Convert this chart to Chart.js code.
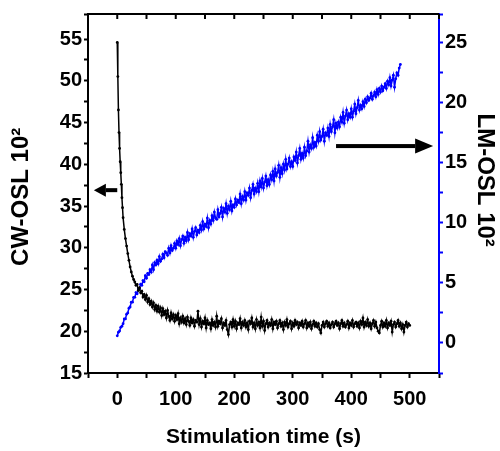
<!DOCTYPE html>
<html>
<head>
<meta charset="utf-8">
<script src="https://cdn.jsdelivr.net/npm/chart.js@4.4.1/dist/chart.umd.min.js"></script>
<style>
  body { margin: 0; background: #fff; }
  canvas { display: block; }
</style>
</head>
<body>
<canvas id="osl" width="500" height="451"></canvas>
<script>
// CW-OSL decay (left axis, x10^2 counts)
const cwTime = [0,1,2,3,4,5,6,7,8,9,10,
  12,14,16,18,20,22,24,26,28,30,32,34,36,38,40,42,44,46,48,50,
  52,54,56,58,60,62,64,66,68,70,72,74,76,78,80,82,84,86,88,90,
  92,94,96,98,100,102,104,106,108,110,112,114,116,118,120,122,124,126,128,130,
  132,134,136,138,140,142,144,146,148,150,152,154,156,158,160,162,164,166,168,170,
  172,174,176,178,180,182,184,186,188,190,192,194,196,198,200,202,204,206,208,210,
  212,214,216,218,220,222,224,226,228,230,232,234,236,238,240,242,244,246,248,250,
  252,254,256,258,260,262,264,266,268,270,272,274,276,278,280,282,284,286,288,290,
  292,294,296,298,300,302,304,306,308,310,312,314,316,318,320,322,324,326,328,330,
  332,334,336,338,340,342,344,346,348,350,352,354,356,358,360,362,364,366,368,370,
  372,374,376,378,380,382,384,386,388,390,392,394,396,398,400,402,404,406,408,410,
  412,414,416,418,420,422,424,426,428,430,432,434,436,438,440,442,444,446,448,450,
  452,454,456,458,460,462,464,466,468,470,472,474,476,478,480,482,484,486,488,490,
  492,494,496,498,500];
const cwValues = [54.6,50.5,46.5,43.8,41.9,40.3,39.0,37.6,36.0,34.8,33.6,
  32.2,31.1,30.2,29.3,28.5,27.7,27.1,26.6,26.2,25.9,25.5,25.6,24.9,25.2,24.6,24.8,24.1,24.4,23.8,24.3,
  23.5,23.9,23.2,23.6,22.9,23.4,22.6,23.1,22.4,23.0,22.3,22.8,21.9,22.7,22.0,22.4,21.6,22.5,21.8,21.3,
  22.2,21.5,22.0,21.2,21.9,21.4,22.1,20.9,21.6,21.1,21.8,21.0,21.5,20.8,21.7,21.2,20.7,21.6,21.0,21.4,
  20.6,21.3,21.1,22.4,20.8,21.5,20.5,21.2,20.9,21.6,20.4,21.3,20.8,21.0,20.3,21.4,20.7,21.1,20.5,21.8,
  20.6,21.2,20.9,21.5,20.4,21.0,20.7,21.3,20.2,19.6,20.8,21.1,20.5,21.4,20.6,21.2,20.3,21.0,20.8,21.5,
  20.4,21.1,20.7,21.3,20.5,21.0,20.2,21.2,20.9,21.6,20.5,21.0,20.3,21.4,20.7,21.1,20.4,21.7,20.6,21.2,
  20.1,20.9,21.3,20.5,21.0,20.7,21.4,20.3,21.1,20.8,21.2,20.4,20.9,21.3,20.6,21.0,20.2,21.1,20.7,21.4,
  20.5,20.9,21.2,20.3,21.0,20.6,21.3,20.8,21.1,20.4,21.0,20.7,21.2,20.5,20.9,21.3,20.4,21.0,20.6,21.1,
  20.3,20.8,21.2,20.6,21.0,20.5,20.9,20.2,19.8,20.7,21.1,20.5,20.9,21.2,20.6,21.0,20.4,20.8,21.1,20.5,
  20.9,21.2,20.7,21.0,20.3,20.9,21.3,20.6,21.0,20.5,20.8,21.2,20.4,21.0,20.7,21.3,20.5,20.9,21.1,20.6,
  21.0,20.4,21.2,20.8,21.6,20.5,21.1,20.7,21.4,20.6,21.0,20.3,20.9,21.3,20.6,21.1,20.4,20.0,19.8,20.7,
  21.2,20.5,21.0,20.6,21.3,20.4,21.0,20.7,21.2,19.9,20.8,21.1,20.5,20.9,21.3,20.6,21.0,20.3,20.8,19.9,
  20.7,21.1,20.5,20.9,20.7];

// LM-OSL rise (right axis, x10^2 counts)
const lmTime = [0,2,4,6,8,10,12,14,16,18,20,22,24,26,28,30,32,34,36,38,
  40,42,44,46,48,50,52,54,56,58,60,62,64,66,68,70,72,74,76,78,
  80,82,84,86,88,90,92,94,96,98,100,102,104,106,108,110,112,114,116,118,
  120,122,124,126,128,130,132,134,136,138,140,142,144,146,148,150,152,154,156,158,
  160,162,164,166,168,170,172,174,176,178,180,182,184,186,188,190,192,194,196,198,
  200,202,204,206,208,210,212,214,216,218,220,222,224,226,228,230,232,234,236,238,
  240,242,244,246,248,250,252,254,256,258,260,262,264,266,268,270,272,274,276,278,
  280,282,284,286,288,290,292,294,296,298,300,302,304,306,308,310,312,314,316,318,
  320,322,324,326,328,330,332,334,336,338,340,342,344,346,348,350,352,354,356,358,
  360,362,364,366,368,370,372,374,376,378,380,382,384,386,388,390,392,394,396,398,
  400,402,404,406,408,410,412,414,416,418,420,422,424,426,428,430,432,434,436,438,
  440,442,444,446,448,450,452,454,456,458,460,462,464,466,468,470,472,474,476,478,
  480,482,484];
const lmValues = [0.6,0.9,1.0,1.3,1.4,1.6,2.0,2.0,2.4,2.5,
  2.9,3.0,3.4,3.4,3.8,3.8,4.2,4.1,4.5,4.5,
  4.9,4.8,5.2,5.1,5.6,5.4,5.8,5.7,6.1,5.9,
  6.5,6.1,6.7,6.5,6.9,6.6,7.2,6.8,7.0,7.4,
  7.1,7.6,7.5,7.3,7.9,7.5,8.1,7.7,7.9,8.3,
  7.9,8.5,8.2,8.7,8.1,8.6,8.9,8.3,8.8,8.5,
  9.2,8.6,9.1,8.9,9.5,8.8,9.3,9.6,9.0,9.4,
  9.2,9.8,9.4,10.1,9.5,9.9,9.7,10.4,9.6,10.2,
  9.9,10.6,10.2,10.9,10.4,10.3,11.1,10.5,10.8,11.3,
  10.5,11.2,10.9,11.6,10.8,11.4,11.1,11.8,11.0,11.5,
  11.3,12.0,11.5,11.9,11.7,12.4,11.6,12.2,11.9,12.6,
  11.9,12.5,12.3,12.9,12.1,12.7,13.2,12.4,12.9,12.6,
  13.3,12.6,13.5,13.0,13.7,12.9,13.4,13.9,13.1,13.6,
  13.2,14.0,13.6,14.3,13.5,14.5,13.9,14.2,14.8,13.8,
  14.6,14.1,14.9,14.4,15.3,14.5,14.9,15.4,14.7,15.1,
  14.7,15.5,15.2,15.9,15.0,15.6,16.2,15.3,15.8,15.4,
  16.3,15.6,16.0,16.8,15.9,16.5,16.2,17.1,16.3,16.7,
  16.4,17.3,16.8,17.6,16.9,17.2,17.8,16.8,17.5,17.3,
  17.9,17.2,18.2,17.6,18.0,18.6,17.5,18.3,17.9,18.4,
  18.0,18.8,18.4,19.2,18.3,18.9,19.4,18.6,19.1,18.8,
  19.5,18.8,19.3,19.9,19.1,19.6,20.2,19.4,19.8,19.5,
  20.1,19.7,20.3,20.0,20.5,20.2,20.4,20.8,20.3,20.6,
  20.9,20.5,21.1,20.7,21.2,20.9,21.4,21.0,21.3,21.6,
  21.2,21.8,21.5,22.1,21.4,21.9,22.3,21.3,22.0,22.5,
  22.3,22.9,23.2];

const xLabels = [0, 100, 200, 300, 400, 500];
const leftLabels = [15, 20, 25, 30, 35, 40, 45, 50, 55];
const rightLabels = [0, 5, 10, 15, 20, 25];

const SANS = "'Liberation Sans', Arial, sans-serif";
const tickFont = { family: SANS, size: 20, weight: 'bold' };

// top frame with inward ticks, plus the two arrows
const extras = {
  id: 'extras',
  afterDraw(chart) {
    const { ctx, chartArea: a, scales } = chart;
    const x = scales.x;
    ctx.save();
    ctx.strokeStyle = '#000';
    ctx.lineWidth = 2;
    ctx.beginPath();
    ctx.moveTo(a.left - 1, a.top);
    ctx.lineTo(a.right, a.top);
    x.ticks.forEach(t => {
      const px = x.getPixelForValue(t.value);
      ctx.moveTo(px, a.top);
      ctx.lineTo(px, a.top + 5);
    });
    ctx.stroke();

    const arrow = (ys, x0, x1, y, headLen, headH, w) => {
      const p0 = x.getPixelForValue(x0), p1 = x.getPixelForValue(x1);
      const py = ys.getPixelForValue(y);
      const dir = p1 > p0 ? 1 : -1;
      ctx.fillStyle = '#000';
      ctx.fillRect(Math.min(p0, p1 - dir * headLen), py - w / 2, Math.abs(p1 - dir * headLen - p0), w);
      ctx.beginPath();
      ctx.moveTo(p1, py);
      ctx.lineTo(p1 - dir * headLen, py - headH / 2);
      ctx.lineTo(p1 - dir * headLen, py + headH / 2);
      ctx.closePath();
      ctx.fill();
    };
    arrow(scales.yLeft, 0, -40, 36.9, 12, 13, 4);
    arrow(scales.yRight, 374, 540, 16.4, 18, 15, 4);
    ctx.restore();
  }
};

new Chart(document.getElementById('osl'), {
  type: 'line',
  data: {
    datasets: [
      {
        label: 'CW-OSL',
        data: cwTime.map((t, i) => ({ x: t, y: cwValues[i] })),
        yAxisID: 'yLeft',
        borderColor: '#000',
        backgroundColor: '#000',
        borderWidth: 1.5,
        pointRadius: 1.4,
        pointBorderWidth: 0
      },
      {
        label: 'LM-OSL',
        data: lmTime.map((t, i) => ({ x: t, y: lmValues[i] })),
        yAxisID: 'yRight',
        borderColor: '#0000ff',
        backgroundColor: '#0000ff',
        borderWidth: 1.5,
        pointRadius: 1.4,
        pointBorderWidth: 0
      }
    ]
  },
  options: {
    responsive: false,
    animation: false,
    devicePixelRatio: 1,
    layout: { padding: { top: 14, right: 0, left: 0, bottom: 0 } },
    plugins: { legend: { display: false }, tooltip: { enabled: false } },
    scales: {
      x: {
        type: 'linear',
        min: -50,
        max: 550,
        afterFit: s => { s.height = 78; },
        border: { color: '#000', width: 2 },
        grid: { drawOnChartArea: false, tickLength: 5, tickColor: '#000', tickWidth: 2 },
        ticks: {
          stepSize: 50,
          autoSkip: false,
          maxRotation: 0,
          padding: 9,
          color: '#000',
          font: tickFont,
          callback: v => xLabels.includes(v) ? String(v) : ''
        },
        title: {
          display: true,
          text: 'Stimulation time (s)',
          color: '#000',
          font: { family: SANS, size: 21, weight: 'bold', lineHeight: 1 },
          padding: { top: 0, bottom: 3 }
        }
      },
      yLeft: {
        position: 'left',
        min: 15,
        max: 58,
        afterFit: s => { s.width = 88; },
        border: { color: '#000', width: 2 },
        grid: { drawOnChartArea: false, tickLength: 4, tickColor: '#000', tickWidth: 2 },
        ticks: {
          stepSize: 2.5,
          autoSkip: false,
          padding: 2,
          color: '#000',
          font: tickFont,
          callback: v => leftLabels.includes(v) ? String(v) : ''
        },
        title: {
          display: true,
          text: 'CW-OSL 10² ',
          color: '#000',
          font: { family: SANS, size: 24, weight: 'bold', lineHeight: 1 },
          padding: { top: 9, bottom: 0 }
        }
      },
      yRight: {
        position: 'right',
        min: -2.5,
        max: 27.4,
        afterFit: s => { s.width = 61; },
        border: { color: '#0000ff', width: 2 },
        grid: { drawOnChartArea: false, tickLength: 4, tickColor: '#0000ff', tickWidth: 2 },
        ticks: {
          stepSize: 2.5,
          autoSkip: false,
          padding: 2,
          color: '#000',
          font: tickFont,
          callback: v => rightLabels.includes(v) ? String(v) : ''
        },
        title: {
          display: true,
          text: 'LM-OSL 10²    ',
          color: '#000',
          font: { family: SANS, size: 24, weight: 'bold', lineHeight: 1 },
          padding: { top: 3, bottom: 0 }
        }
      }
    }
  },
  plugins: [extras]
});
</script>
</body>
</html>
